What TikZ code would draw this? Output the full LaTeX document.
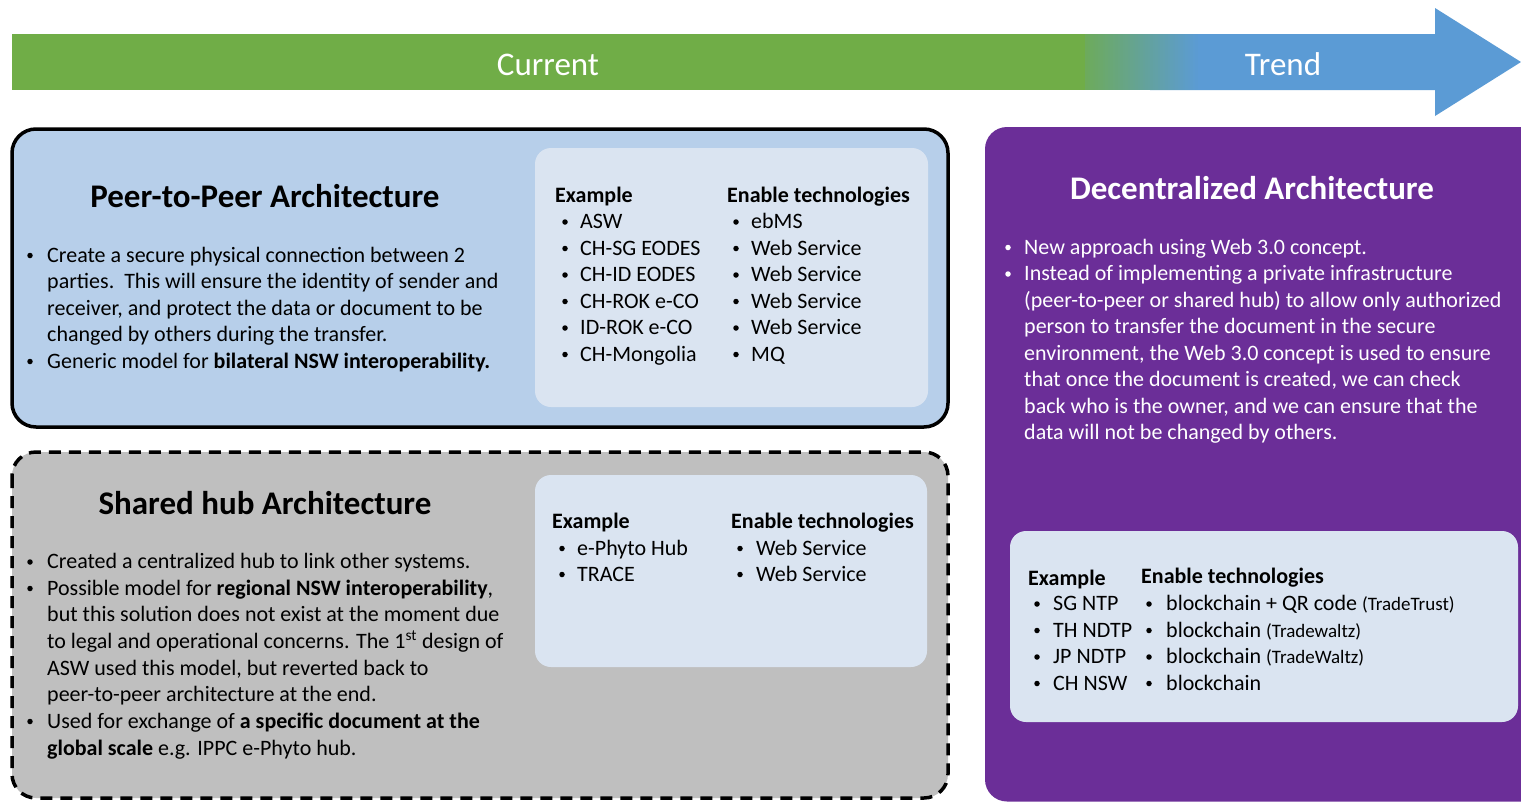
\documentclass[tikz,border=0pt]{standalone}
\usepackage{fontspec}
\setmainfont{Carlito}
\definecolor{cgreen}{HTML}{70AD47}
\definecolor{cblue}{HTML}{5B9BD5}
\definecolor{peerfill}{HTML}{B7CFEA}
\definecolor{innerfill}{HTML}{DAE4F1}
\definecolor{hubfill}{HTML}{BFBFBF}
\definecolor{purp}{HTML}{6B2E98}
\begin{document}
\begin{tikzpicture}[x=1pt,y=-1pt,
  body/.style={anchor=base west,inner sep=0pt,font=\fontsize{22}{26}\selectfont},
  dot/.style={circle,fill,inner sep=0pt,minimum size=5.5pt,yshift=6.5pt},
  ttl/.style={anchor=base,inner sep=0pt,font=\bfseries\fontsize{33}{38}\selectfont},
  hdr/.style={anchor=base west,inner sep=0pt,font=\bfseries\fontsize{22}{26}\selectfont},
  band/.style={anchor=base,inner sep=0pt,text=white,font=\fontsize{33}{38}\selectfont},
  outerbox/.style={line width=3.5pt,rounded corners=24pt},
  innerbox/.style={fill=innerfill,rounded corners=16pt}]
\useasboundingbox (0,0) rectangle (1521,801);
\clip (0,0) rectangle (1521,801);
\fill[white] (0,0) rectangle (1521,801);

% top band
\fill[cblue] (1150,34) -- (1435,34) -- (1435,8) -- (1521,62) -- (1435,116) -- (1435,90) -- (1150,90) -- cycle;
\fill[cgreen] (12,34) rectangle (1086,90);
\foreach \k in {0,...,45}{
  \pgfmathsetmacro{\p}{85-\k*85/45}
  \fill[cgreen!\p!cblue] ({1085+\k*2.5},34) rectangle ({1085+\k*2.5+2.7},90);
}
\node[band] (cur) at (548,75) {Current};
\node[band] (trd) at (1283,75) {Trend};

% peer-to-peer
\draw[outerbox,fill=peerfill] (12,129) rectangle (948,427);
\fill[innerbox] (535,148) rectangle (928,407);
\node[ttl] (pt) at (265,207) {Peer-to-Peer Architecture};
\node[dot] (pb1) at (30,262) {};
\node[body] (pl1) at (47,262) {Create a secure physical connection between 2};
\node[body] (pl2) at (47,288.5) {parties.\ \ This will ensure the identity of sender and};
\node[body] (pl3) at (47,315) {receiver, and protect the data or document to be};
\node[body] (pl4) at (47,341.5) {changed by others during the transfer.};
\node[dot] (pb2) at (30,368) {};
\node[body] (pl5) at (47,368) {Generic model for \textbf{bilateral NSW interoperability.}};

\node[hdr] (pex) at (555,202) {Example};
\node[hdr] (pen) at (727,202) {Enable technologies};
\foreach \i/\yy/\a/\b in {1/228.5/ASW/ebMS, 2/255/CH-SG EODES/Web Service, 3/281.5/CH-ID EODES/Web Service, 4/308/CH-ROK e-CO/Web Service, 5/334.5/ID-ROK e-CO/Web Service, 6/361/CH-Mongolia/MQ}{
  \node[dot] (pxb\i) at (565,\yy) {};
  \node[body] (pxa\i) at (580,\yy) {\a};
  \node[dot] (ptb\i) at (736,\yy) {};
  \node[body] (pta\i) at (751,\yy) {\b};
}

% shared hub
\draw[outerbox,fill=hubfill,dash pattern=on 12pt off 8pt] (12,452) rectangle (948,798);
\fill[innerbox] (535,475) rectangle (927,667);
\node[ttl] (ht) at (265,514) {Shared hub Architecture};
\node[dot] (hb1) at (30,568.5) {};
\node[body] (hl1) at (47,568.5) {Created a centralized hub to link other systems.};
\node[dot] (hb2) at (30,595) {};
\node[body] (hl2) at (47,595) {Possible model for \textbf{regional NSW interoperability},};
\node[body] (hl3) at (47,621.5) {but this solution does not exist at the moment due};
\node[body] (hl4) at (47,648) {to legal and operational concerns. The 1\textsuperscript{st} design of};
\node[body] (hl5) at (47,675) {ASW used this model, but reverted back to};
\node[body] (hl6) at (47,701.5) {peer-to-peer architecture at the end.};
\node[dot] (hb3) at (30,728) {};
\node[body] (hl7) at (47,728) {Used for exchange of \textbf{a specific document at the}};
\node[body] (hl8) at (47,755) {\textbf{global scale} e.g. IPPC e-Phyto hub.};

\node[hdr] (hex) at (552,528.5) {Example};
\node[hdr] (hen) at (731,528.5) {Enable technologies};
\foreach \i/\yy/\a/\b in {1/555/e-Phyto Hub/Web Service, 2/581/TRACE/Web Service}{
  \node[dot] (hxb\i) at (562,\yy) {};
  \node[body] (hxa\i) at (577,\yy) {\a};
  \node[dot] (htb\i) at (740,\yy) {};
  \node[body] (hta\i) at (756,\yy) {\b};
}

% decentralized
\fill[purp,rounded corners=22pt] (985,127) rectangle (1550,801.5);
\fill[innerbox] (1010,531) rectangle (1518,722);
\node[ttl,text=white] (dt) at (1252,199) {Decentralized Architecture};
\node[dot,white] (db1) at (1008,254) {};
\node[body,text=white] (dl1) at (1024,254) {New approach using Web 3.0 concept.};
\node[dot,white] (db2) at (1008,280.5) {};
\node[body,text=white] (dl2) at (1024,280.5) {Instead of implementing a private infrastructure};
\node[body,text=white] (dl3) at (1024,307) {(peer-to-peer or shared hub) to allow only authorized};
\node[body,text=white] (dl4) at (1024,333.5) {person to transfer the document in the secure};
\node[body,text=white] (dl5) at (1024,360) {environment, the Web 3.0 concept is used to ensure};
\node[body,text=white] (dl6) at (1024,386.5) {that once the document is created, we can check};
\node[body,text=white] (dl7) at (1024,413) {back who is the owner, and we can ensure that the};
\node[body,text=white] (dl8) at (1024,439.5) {data will not be changed by others.};

\node[hdr] (dex) at (1028,585) {Example};
\node[hdr] (den) at (1141,583.5) {Enable technologies};
\foreach \i/\yy/\a in {1/610.5/SG NTP, 2/637/TH NDTP, 3/663.5/JP NDTP, 4/690/CH NSW}{
  \node[dot] (dxb\i) at (1037,\yy) {};
  \node[body] (dxa\i) at (1053,\yy) {\a};
  \node[dot] (dtb\i) at (1149,\yy) {};
}
\node[body] (dta1) at (1166,610.5) {blockchain + QR code {\fontsize{19}{22}\selectfont(TradeTrust)}};
\node[body] (dta2) at (1166,637) {blockchain {\fontsize{19}{22}\selectfont(Tradewaltz)}};
\node[body] (dta3) at (1166,663.5) {blockchain {\fontsize{19}{22}\selectfont(TradeWaltz)}};
\node[body] (dta4) at (1166,690) {blockchain};
\end{tikzpicture}
\end{document}
